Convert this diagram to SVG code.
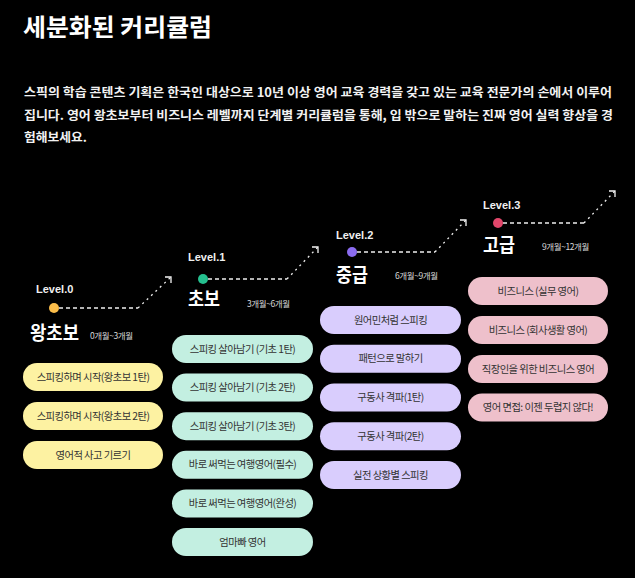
<svg xmlns="http://www.w3.org/2000/svg" width="635" height="578" viewBox="0 0 635 578">
<defs>
<style>
.kr{font-family:"Noto Sans CJK KR","Noto Sans",sans-serif}
.title{font-size:24px;font-weight:700;fill:#fff}
.para{font-size:12.4px;font-weight:700;fill:#f2f2f2}
.lv{font-family:"Liberation Sans",Arial,sans-serif;font-size:11px;font-weight:700;fill:#f0f0f0}
.big{font-size:19px;font-weight:700;fill:#fff}
.per{font-size:8.5px;fill:#d8d8d8;letter-spacing:-0.4px}
.pt{font-size:10.3px;fill:#333;text-anchor:middle;letter-spacing:-0.55px}
.y{fill:#fdf2a2}.m{fill:#c3efe1}.p{fill:#d9cdfd}.k{fill:#eec0cb}
.h{fill:none;stroke:#eee;stroke-width:1.3;stroke-dasharray:4 3}
.d{fill:none;stroke:#eee;stroke-width:1.3;stroke-dasharray:2 4}
.ah{fill:none;stroke:#f5f5f5;stroke-width:1.3}
</style>
</defs>
<rect width="635" height="578" fill="#000"/>
<g id="header" class="kr">
<text class="title" x="23" y="36" textLength="189" lengthAdjust="spacingAndGlyphs">세분화된 커리큘럼</text>
<text class="para" x="24" y="97" textLength="588" lengthAdjust="spacingAndGlyphs">스픽의 학습 콘텐츠 기획은 한국인 대상으로 10년 이상 영어 교육 경력을 갖고 있는 교육 전문가의 손에서 이루어</text>
<text class="para" x="24" y="120" textLength="589" lengthAdjust="spacingAndGlyphs">집니다. 영어 왕초보부터 비즈니스 레벨까지 단계별 커리큘럼을 통해, 입 밖으로 말하는 진짜 영어 실력 향상을 경</text>
<text class="para" x="24" y="142" textLength="63" lengthAdjust="spacingAndGlyphs">험해보세요.</text>
</g>
<g id="connectors">
<path class="h" d="M59 308 H138"/><path class="d" d="M138 308 L171 277"/><path class="ah" d="M165 277 H171 V283"/>
<path class="h" d="M208 279 H287"/><path class="d" d="M287 279 L318 247"/><path class="ah" d="M312 247 H318 V253"/>
<path class="h" d="M357 252 H435"/><path class="d" d="M435 252 L466 220"/><path class="ah" d="M460 220 H466 V226"/>
<path class="h" d="M503 223 H584"/><path class="d" d="M584 223 L615 191"/><path class="ah" d="M609 191 H615 V197"/>
</g>
<g id="level0" class="kr">
<text class="lv" x="36" y="293">Level.0</text>
<circle cx="54" cy="308" r="5" fill="#fbbd4a"/>
<text class="big" x="30" y="340" textLength="49" lengthAdjust="spacingAndGlyphs">왕초보</text>
<text class="per" x="90" y="339">0개월~3개월</text>
</g>
<g id="l0-1" class="kr"><rect class="y" x="23" y="363" width="140" height="28" rx="14"/><text class="pt" x="93" y="380.5">스피킹하며 시작(왕초보 1탄)</text></g>
<g id="l0-2" class="kr"><rect class="y" x="23" y="402" width="140" height="28" rx="14"/><text class="pt" x="93" y="419.5">스피킹하며 시작(왕초보 2탄)</text></g>
<g id="l0-3" class="kr"><rect class="y" x="23" y="441" width="140" height="28" rx="14"/><text class="pt" x="93" y="458.5">영어적 사고 기르기</text></g>
<g id="level1" class="kr">
<text class="lv" x="188" y="261">Level.1</text>
<circle cx="203" cy="279" r="5" fill="#25c08f"/>
<text class="big" x="188" y="306" textLength="32" lengthAdjust="spacingAndGlyphs">초보</text>
<text class="per" x="247" y="307">3개월~6개월</text>
</g>
<g id="l1-1" class="kr"><rect class="m" x="172" y="335" width="141" height="28" rx="14"/><text class="pt" x="242.5" y="352.5">스피킹 살아남기 (기초 1탄)</text></g>
<g id="l1-2" class="kr"><rect class="m" x="172" y="373.6" width="141" height="28" rx="14"/><text class="pt" x="242.5" y="391.1">스피킹 살아남기 (기초 2탄)</text></g>
<g id="l1-3" class="kr"><rect class="m" x="172" y="412.2" width="141" height="28" rx="14"/><text class="pt" x="242.5" y="429.7">스피킹 살아남기 (기초 3탄)</text></g>
<g id="l1-4" class="kr"><rect class="m" x="172" y="450.8" width="141" height="28" rx="14"/><text class="pt" x="242.5" y="468.3">바로 써먹는 여행영어(필수)</text></g>
<g id="l1-5" class="kr"><rect class="m" x="172" y="489.4" width="141" height="28" rx="14"/><text class="pt" x="242.5" y="506.9">바로 써먹는 여행영어(완성)</text></g>
<g id="l1-6" class="kr"><rect class="m" x="172" y="528" width="141" height="28" rx="14"/><text class="pt" x="242.5" y="545.5">엄마빠 영어</text></g>
<g id="level2" class="kr">
<text class="lv" x="336" y="239">Level.2</text>
<circle cx="352" cy="252" r="5" fill="#8b6cf0"/>
<text class="big" x="336" y="282" textLength="32" lengthAdjust="spacingAndGlyphs">중급</text>
<text class="per" x="395" y="279">6개월~9개월</text>
</g>
<g id="l2-1" class="kr"><rect class="p" x="320" y="306" width="141" height="28" rx="14"/><text class="pt" x="390.5" y="323.5">원어민처럼 스피킹</text></g>
<g id="l2-2" class="kr"><rect class="p" x="320" y="344.75" width="141" height="28" rx="14"/><text class="pt" x="390.5" y="362.25">패턴으로 말하기</text></g>
<g id="l2-3" class="kr"><rect class="p" x="320" y="383.5" width="141" height="28" rx="14"/><text class="pt" x="390.5" y="401">구동사 격파(1탄)</text></g>
<g id="l2-4" class="kr"><rect class="p" x="320" y="422.25" width="141" height="28" rx="14"/><text class="pt" x="390.5" y="439.75">구동사 격파(2탄)</text></g>
<g id="l2-5" class="kr"><rect class="p" x="320" y="461" width="141" height="28" rx="14"/><text class="pt" x="390.5" y="478.5">실전 상황별 스피킹</text></g>
<g id="level3" class="kr">
<text class="lv" x="483" y="209">Level.3</text>
<circle cx="498" cy="223" r="5" fill="#e2476b"/>
<text class="big" x="483" y="252" textLength="32" lengthAdjust="spacingAndGlyphs">고급</text>
<text class="per" x="542" y="250">9개월~12개월</text>
</g>
<g id="l3-1" class="kr"><rect class="k" x="468" y="277" width="140" height="28" rx="14"/><text class="pt" x="538" y="294.5">비즈니스 (실무 영어)</text></g>
<g id="l3-2" class="kr"><rect class="k" x="468" y="316" width="140" height="28" rx="14"/><text class="pt" x="538" y="333.5">비즈니스 (회사생활 영어)</text></g>
<g id="l3-3" class="kr"><rect class="k" x="468" y="355" width="140" height="28" rx="14"/><text class="pt" x="538" y="372.5">직장인을 위한 비즈니스 영어</text></g>
<g id="l3-4" class="kr"><rect class="k" x="468" y="393.5" width="140" height="28" rx="14"/><text class="pt" x="538" y="411">영어 면접: 이젠 두렵지 않다!</text></g>
</svg>
